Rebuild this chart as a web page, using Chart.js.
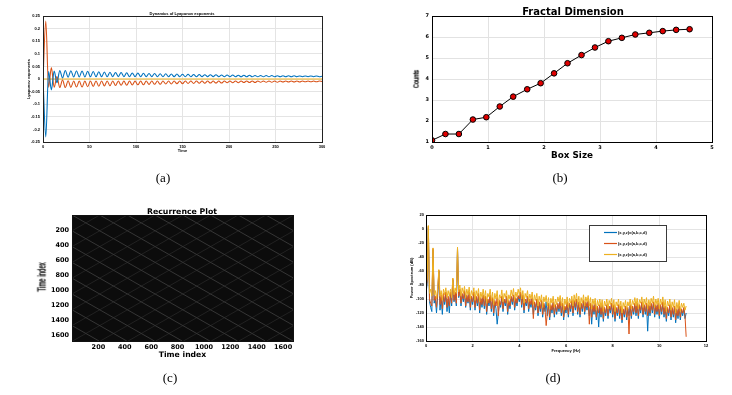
<!DOCTYPE html>
<html>
<head>
<meta charset="utf-8">
<script src="https://cdn.jsdelivr.net/npm/chart.js@4.4.1/dist/chart.umd.min.js"></script>
<style>
  body { margin:0; background:#fff; width:732px; height:395px; position:relative; overflow:hidden; }
  canvas { position:absolute; }
  .ttl { position:absolute; font-family:"DejaVu Sans", sans-serif; font-weight:bold; white-space:nowrap; transform:translate(-50%,-50%); color:#000; }
  .vlab { position:absolute; font-family:"Liberation Sans", Arial, sans-serif; white-space:nowrap; color:#000; -webkit-text-stroke:0.35px #000; }
  .cap { position:absolute; font-family:"Liberation Serif", serif; font-size:13px; transform:translate(-50%,-50%); color:#000; filter:grayscale(1); }
</style>
</head>
<body>
<canvas id="lyapChart" width="360" height="165" style="left:0;top:0"></canvas>
<canvas id="fractalChart" width="366" height="165" style="left:366px;top:0"></canvas>
<canvas id="recurChart" width="360" height="170" style="left:0;top:195px"></canvas>
<canvas id="spectrumChart" width="366" height="165" style="left:366px;top:200px"></canvas>

<div class="ttl" style="left:182px;top:13px;font-family:'Liberation Sans',Arial;font-size:4px">Dynamics of Lyapunov exponents</div>
<div class="ttl" style="left:573px;top:11px;font-size:10px">Fractal Dimension</div>
<div class="ttl" style="left:182px;top:211px;font-size:7.8px">Recurrence Plot</div>
<div class="vlab" style="left:416px;top:79px;font-size:8px;transform:translate(-50%,-50%) rotate(-90deg) scaleX(0.72)">Counts</div>
<div class="vlab" style="left:42px;top:277px;font-size:10px;transform:translate(-50%,-50%) rotate(-90deg) scaleX(0.6)">Time index</div>

<div class="cap" style="left:163px;top:178px">(a)</div>
<div class="cap" style="left:560px;top:178px">(b)</div>
<div class="cap" style="left:170px;top:378px">(c)</div>
<div class="cap" style="left:553px;top:378px">(d)</div>

<script>
// (a) Lyapunov exponents, sampled every 3 time units from t = 0 to 300
const lyapStep = 3;
const lyapBlue = [0, -0.23, 0.030, -0.043, 0.032, -0.015, 0.034, 0.004, 0.034, 0.007,
  0.033, 0.008, 0.033, 0.008, 0.032, 0.008, 0.031, 0.009, 0.030, 0.009,
  0.029, 0.009, 0.028, 0.009, 0.027, 0.009, 0.026, 0.009, 0.026, 0.009,
  0.025, 0.009, 0.024, 0.009, 0.024, 0.009, 0.023, 0.009, 0.022, 0.009,
  0.022, 0.009, 0.021, 0.009, 0.021, 0.009, 0.020, 0.009, 0.020, 0.009,
  0.019, 0.009, 0.019, 0.009, 0.018, 0.009, 0.018, 0.009, 0.017, 0.009,
  0.017, 0.009, 0.017, 0.009, 0.016, 0.009, 0.016, 0.009, 0.016, 0.009,
  0.015, 0.009, 0.015, 0.009, 0.015, 0.009, 0.014, 0.009, 0.014, 0.009,
  0.014, 0.009, 0.014, 0.009, 0.013, 0.009, 0.013, 0.009, 0.013, 0.009,
  0.013, 0.009, 0.012, 0.009, 0.012, 0.009, 0.012, 0.009, 0.012, 0.009,
  0.011];
const lyapOrange = [0, 0.23, -0.033, 0.045, -0.033, 0.010, -0.034, -0.004, -0.034, -0.007,
  -0.033, -0.008, -0.032, -0.008, -0.032, -0.008, -0.031, -0.008, -0.030, -0.008,
  -0.029, -0.008, -0.028, -0.008, -0.027, -0.008, -0.026, -0.008, -0.025, -0.008,
  -0.025, -0.008, -0.024, -0.008, -0.023, -0.008, -0.023, -0.008, -0.022, -0.008,
  -0.021, -0.008, -0.021, -0.008, -0.020, -0.008, -0.020, -0.008, -0.019, -0.008,
  -0.019, -0.008, -0.018, -0.008, -0.018, -0.008, -0.017, -0.008, -0.017, -0.008,
  -0.016, -0.008, -0.016, -0.008, -0.016, -0.008, -0.015, -0.008, -0.015, -0.008,
  -0.015, -0.008, -0.014, -0.008, -0.014, -0.008, -0.014, -0.008, -0.013, -0.008,
  -0.013, -0.008, -0.013, -0.008, -0.013, -0.008, -0.012, -0.008, -0.012, -0.008,
  -0.012, -0.008, -0.012, -0.008, -0.011, -0.008, -0.011, -0.008, -0.011, -0.008,
  -0.010];
const lyapZeroTime = [0, 300];
const lyapZero = [0, 0];

// (b) fractal dimension
const boxSize = [0, 0.24, 0.48, 0.73, 0.97, 1.21, 1.45, 1.70, 1.94, 2.18, 2.42, 2.67, 2.91, 3.15, 3.39, 3.63, 3.88, 4.12, 4.36, 4.60];
const boxCounts = [1.08, 1.38, 1.38, 2.07, 2.18, 2.69, 3.16, 3.51, 3.80, 4.27, 4.75, 5.14, 5.50, 5.80, 5.96, 6.12, 6.20, 6.28, 6.34, 6.37];

// (c) recurrence plot: offsets of the faint recurrence lines (time-index units)
const recurSize = 1675;
const recurDiag = [-1470, -1260, -1050, -840, -630, -420, -210, 0, 210, 420, 630, 840, 1050, 1260, 1470];
const recurAnti = [210, 420, 630, 840, 1050, 1260, 1470, 1680, 1890, 2100, 2310, 2520, 2730, 2940, 3150];

// (d) power spectrum (dB), one value every 0.05 Hz from 0 to 11.15 Hz (one row = 1 Hz)
const freqStep = 0.05;
const specLabels = ["(x,y,z)=(a,b,c,d)", "(x,y,z)=(a,b,c,d)", "(x,y,z)=(a,b,c,d)"];
const specBlue = [
  -92, -78, 2, -104, -112, -118, -30, -106, -100, -120, -96, -60, -116, -98, -122, -96, -108, -94, -118, -100,
  -120, -92, -110, -73, -104, -92, -110, -28, -98, -88, -110, -94, -104, -90, -112, -96, -106, -92, -116, -98,
  -108, -94, -116, -98, -110, -96, -120, -100, -112, -96, -114, -98, -122, -102, -110, -96, -118, -100, -124, -104,
  -114, -136, -120, -104, -112, -98, -118, -102, -110, -98, -122, -104, -114, -98, -108, -96, -116, -100, -110, -97,
  -104, -92, -112, -96, -120, -104, -110, -98, -118, -104, -112, -100, -122, -106, -116, -102, -124, -108, -118, -104,
  -126, -108, -118, -104, -124, -108, -130, -110, -120, -106, -126, -110, -122, -108, -118, -104, -124, -108, -130, -112,
  -120, -106, -126, -108, -118, -104, -124, -104, -116, -102, -122, -106, -126, -108, -118, -104, -122, -106, -116, -104,
  -124, -108, -136, -110, -122, -108, -130, -112, -140, -110, -126, -110, -132, -114, -124, -110, -128, -112, -120, -108,
  -126, -110, -132, -114, -124, -110, -128, -112, -134, -116, -126, -112, -130, -114, -124, -110, -128, -112, -122, -108,
  -124, -108, -128, -110, -120, -106, -126, -110, -122, -108, -146, -110, -124, -108, -120, -106, -126, -110, -122, -108,
  -128, -110, -122, -106, -126, -112, -132, -114, -124, -110, -130, -114, -126, -112, -134, -116, -128, -112, -130, -116,
  -124, -114, -128, -120];
const specOrange = [
  -88, -74, 4, -100, -106, -110, -28, -102, -96, -112, -92, -59, -108, -94, -114, -92, -104, -90, -112, -96,
  -110, -90, -106, -71, -102, -90, -106, -27, -96, -86, -106, -92, -100, -88, -110, -94, -104, -90, -112, -96,
  -104, -90, -112, -96, -106, -92, -116, -98, -108, -94, -110, -96, -118, -100, -106, -94, -114, -98, -120, -102,
  -110, -98, -124, -102, -108, -96, -114, -100, -106, -96, -118, -102, -110, -96, -104, -94, -112, -98, -106, -95,
  -100, -90, -108, -94, -116, -100, -106, -96, -114, -100, -108, -98, -128, -104, -112, -100, -120, -104, -114, -102,
  -122, -106, -114, -138, -120, -106, -126, -108, -116, -104, -122, -108, -118, -106, -114, -102, -120, -106, -126, -110,
  -116, -104, -122, -106, -114, -102, -120, -102, -112, -100, -118, -104, -122, -106, -114, -102, -118, -104, -112, -102,
  -136, -106, -126, -108, -118, -106, -126, -110, -120, -108, -122, -108, -128, -112, -120, -108, -124, -110, -116, -106,
  -122, -108, -128, -112, -120, -108, -124, -110, -130, -114, -122, -110, -126, -112, -150, -108, -124, -110, -118, -106,
  -120, -106, -124, -108, -116, -104, -122, -108, -118, -106, -124, -108, -120, -106, -116, -104, -122, -108, -118, -106,
  -124, -108, -118, -104, -122, -110, -128, -112, -120, -108, -126, -112, -122, -110, -130, -114, -124, -110, -126, -114,
  -120, -112, -124, -154];
const specYellow = [
  -82, -70, 5, -92, -86, -96, -27, -94, -88, -100, -84, -58, -96, -88, -102, -86, -94, -84, -98, -88,
  -96, -86, -98, -70, -94, -84, -92, -26, -90, -80, -96, -84, -92, -82, -98, -86, -94, -83, -100, -88,
  -95, -84, -102, -88, -96, -85, -104, -90, -98, -86, -100, -88, -106, -92, -97, -86, -103, -90, -108, -92,
  -100, -88, -110, -94, -99, -87, -104, -92, -98, -88, -106, -94, -100, -87, -96, -85, -102, -90, -97, -86,
  -94, -84, -100, -88, -106, -92, -98, -88, -104, -93, -100, -90, -108, -94, -102, -92, -110, -96, -104, -94,
  -112, -97, -104, -95, -110, -98, -114, -99, -106, -96, -112, -100, -108, -97, -104, -95, -110, -98, -116, -100,
  -108, -97, -112, -99, -106, -96, -110, -94, -104, -92, -108, -96, -112, -98, -106, -94, -110, -97, -104, -95,
  -110, -98, -114, -100, -108, -99, -116, -102, -110, -100, -112, -101, -118, -103, -110, -100, -114, -102, -108, -99,
  -112, -101, -118, -104, -110, -100, -114, -103, -120, -105, -112, -102, -116, -104, -110, -100, -114, -102, -108, -98,
  -110, -99, -114, -101, -106, -97, -112, -100, -108, -98, -114, -101, -110, -99, -106, -96, -112, -100, -108, -99,
  -114, -100, -108, -97, -112, -101, -118, -103, -110, -100, -116, -104, -112, -101, -120, -105, -114, -102, -118, -106,
  -112, -106, -116, -110];

const C_BLUE = "#0072BD", C_ORANGE = "#D95319", C_YELLOW = "#EDB120";

Chart.defaults.font.family = "'Liberation Sans', Arial, sans-serif";
Chart.defaults.color = "#000";
Chart.defaults.animation = false;
Chart.defaults.responsive = false;
Chart.defaults.plugins.legend.display = false;
Chart.defaults.plugins.tooltip.enabled = false;

// box around the plot area, optional filled background, optional inset legend
const frame = {
  id: "frame",
  beforeDraw(chart, args, o) {
    if (!o.fill) return;
    const a = chart.chartArea, ctx = chart.ctx;
    ctx.save();
    ctx.fillStyle = o.fill;
    ctx.fillRect(a.left, a.top, a.width, a.height);
    ctx.restore();
  },
  afterDatasetsDraw(chart, args, o) {
    const a = chart.chartArea, ctx = chart.ctx;
    ctx.save();
    ctx.strokeStyle = o.color || "#000";
    ctx.lineWidth = 1;
    ctx.strokeRect(Math.round(a.left) + 0.5, Math.round(a.top) + 0.5, Math.round(a.width), Math.round(a.height));
    if (o.legend) {
      const L = o.legend;
      const x = Math.round(a.left + L.x), y = Math.round(a.top + L.y);
      ctx.fillStyle = "#fff";
      ctx.fillRect(x, y, L.w, L.h);
      ctx.strokeStyle = "#3a3a3a";
      ctx.strokeRect(x + 0.5, y + 0.5, L.w, L.h);
      ctx.font = "bold 4px 'Liberation Sans', Arial";
      ctx.textBaseline = "middle";
      chart.data.datasets.forEach((d, i) => {
        const ly = y + 7.5 + i * 11;
        ctx.strokeStyle = d.borderColor;
        ctx.lineWidth = 1.2;
        ctx.beginPath();
        ctx.moveTo(x + 15, ly);
        ctx.lineTo(x + 28, ly);
        ctx.stroke();
        ctx.fillStyle = "#000";
        ctx.fillText(d.label, x + 29, ly);
      });
    }
    ctx.restore();
  }
};

function fixSize(prop, size) {
  return s => {
    s[prop] = size;
    s.paddingLeft = s.paddingRight = s.paddingTop = s.paddingBottom = 0;
  };
}

function pts(values, step) {
  return values.map((v, i) => ({ x: i * step, y: v }));
}

function renderLyapunov() {
  const tiny = { size: 4, weight: "bold" };
  new Chart(document.getElementById("lyapChart"), {
    type: "line",
    data: {
      datasets: [
        { data: pts(lyapBlue, lyapStep), borderColor: C_BLUE, borderWidth: 1.1, order: 1 },
        { data: pts(lyapOrange, lyapStep), borderColor: C_ORANGE, borderWidth: 1.1, order: 2 },
        { data: lyapZeroTime.map((t, i) => ({ x: t, y: lyapZero[i] })), borderColor: C_YELLOW, borderWidth: 1.1, order: 3 }
      ]
    },
    options: {
      layout: { padding: { top: 16, right: 38, left: 0, bottom: 0 } },
      elements: { point: { radius: 0 }, line: { cubicInterpolationMode: "monotone" } },
      plugins: { frame: { color: "#222" } },
      scales: {
        x: {
          type: "linear", min: 0, max: 300, afterFit: fixSize("height", 23),
          ticks: { stepSize: 50, font: tiny, padding: 2, maxRotation: 0, autoSkip: false },
          grid: { color: "#e4e4e4", drawTicks: false }, border: { display: false },
          title: { display: true, text: "Time", font: tiny, padding: { bottom: 11.5, top: 0 } }
        },
        y: {
          type: "linear", min: -0.25, max: 0.25, afterFit: fixSize("width", 43),
          ticks: { stepSize: 0.05, font: tiny, padding: 3, autoSkip: false, callback: v => String(+v.toFixed(2)) },
          grid: { color: "#e4e4e4", drawTicks: false }, border: { display: false },
          title: { display: true, text: "Lyapunov exponents", font: tiny, padding: { top: 26.5, bottom: 0 } }
        }
      }
    },
    plugins: [frame]
  });
}

function renderFractal() {
  new Chart(document.getElementById("fractalChart"), {
    type: "line",
    data: {
      datasets: [{
        data: boxSize.map((b, i) => ({ x: b, y: boxCounts[i] })),
        borderColor: "#000", borderWidth: 1, tension: 0,
        pointRadius: 2.8, pointBackgroundColor: "#e00000", pointBorderColor: "#000", pointBorderWidth: 1
      }]
    },
    options: {
      layout: { padding: { top: 16, right: 20, left: 0, bottom: 0 } },
      plugins: { frame: {} },
      scales: {
        x: {
          type: "linear", min: 0, max: 5, afterFit: fixSize("height", 23),
          ticks: { stepSize: 1, font: { family: "'DejaVu Sans'", size: 5, weight: "bold" }, padding: 3, maxRotation: 0, autoSkip: false },
          grid: { color: "#e2e2e2", drawTicks: false }, border: { display: false },
          title: { display: true, text: "Box Size", font: { family: "'DejaVu Sans'", size: 8.8, weight: "bold" }, padding: { bottom: 4.5, top: 0 } }
        },
        y: {
          type: "linear", min: 1, max: 7, afterFit: fixSize("width", 66),
          ticks: { stepSize: 1, font: { family: "'DejaVu Sans'", size: 5, weight: "bold" }, padding: 3, autoSkip: false },
          grid: { color: "#e2e2e2", drawTicks: false }, border: { display: false }
        }
      }
    },
    plugins: [frame]
  });
}

function renderRecurrence() {
  const sets = [];
  recurDiag.forEach(c => {
    const x0 = Math.max(0, -c), x1 = Math.min(recurSize, recurSize - c);
    sets.push({ data: [{ x: x0, y: x0 + c }, { x: x1, y: x1 + c }], borderColor: "#363636", borderWidth: 1 });
  });
  recurAnti.forEach(d => {
    const x0 = Math.max(0, d - recurSize), x1 = Math.min(recurSize, d);
    sets.push({ data: [{ x: x0, y: d - x0 }, { x: x1, y: d - x1 }], borderColor: "#222", borderWidth: 1 });
  });
  const tickFont = { family: "'DejaVu Sans'", size: 6.5, weight: "bold" };
  const label = v => (v > 0 && v % 200 === 0 ? String(v) : "");
  new Chart(document.getElementById("recurChart"), {
    type: "line",
    data: { datasets: sets },
    options: {
      layout: { padding: { top: 20, right: 67, left: 0, bottom: 0 } },
      elements: { point: { radius: 0 } },
      plugins: { frame: { fill: "#0c0c0c", color: "#111" } },
      scales: {
        x: {
          type: "linear", min: 0, max: recurSize, afterFit: fixSize("height", 24),
          ticks: { stepSize: 200, includeBounds: false, font: tickFont, padding: 2, maxRotation: 0, autoSkip: false, callback: label },
          grid: { display: false, drawTicks: false }, border: { display: false },
          title: { display: true, text: "Time index", font: { family: "'DejaVu Sans'", size: 7.7, weight: "bold" }, padding: { bottom: 5, top: 0 } }
        },
        y: {
          type: "linear", reverse: true, min: 0, max: recurSize, afterFit: fixSize("width", 72),
          ticks: { stepSize: 200, includeBounds: false, font: tickFont, padding: 3, autoSkip: false, callback: label },
          grid: { display: false, drawTicks: false }, border: { display: false }
        }
      }
    },
    plugins: [frame]
  });
}

function renderSpectrum() {
  const tiny = { size: 4, weight: "bold" };
  new Chart(document.getElementById("spectrumChart"), {
    type: "line",
    data: {
      datasets: [
        { label: specLabels[0], data: pts(specBlue, freqStep), borderColor: C_BLUE, borderWidth: 1, order: 3 },
        { label: specLabels[1], data: pts(specOrange, freqStep), borderColor: C_ORANGE, borderWidth: 1, order: 2 },
        { label: specLabels[2], data: pts(specYellow, freqStep), borderColor: C_YELLOW, borderWidth: 1, order: 1 }
      ]
    },
    options: {
      layout: { padding: { top: 15, right: 26, left: 0, bottom: 0 } },
      elements: { point: { radius: 0 }, line: { tension: 0 } },
      plugins: { frame: { legend: { x: 163, y: 10, w: 77, h: 36 } } },
      scales: {
        x: {
          type: "linear", min: 0, max: 12, afterFit: fixSize("height", 24),
          ticks: { stepSize: 2, font: tiny, padding: 2.5, maxRotation: 0, autoSkip: false },
          grid: { color: "#e4e4e4", drawTicks: false }, border: { display: false },
          title: { display: true, text: "Frequency (Hz)", font: tiny, padding: { bottom: 11.5, top: 0 } }
        },
        y: {
          type: "linear", min: -160, max: 20, afterFit: fixSize("width", 60),
          ticks: { stepSize: 20, font: tiny, padding: 2, autoSkip: false },
          grid: { color: "#e4e4e4", drawTicks: false }, border: { display: false },
          title: { display: true, text: "Power Spectrum (dB)", font: tiny, padding: { top: 43.5, bottom: 0 } }
        }
      }
    },
    plugins: [frame]
  });
}

renderLyapunov();
renderFractal();
renderRecurrence();
renderSpectrum();
</script>
</body>
</html>
